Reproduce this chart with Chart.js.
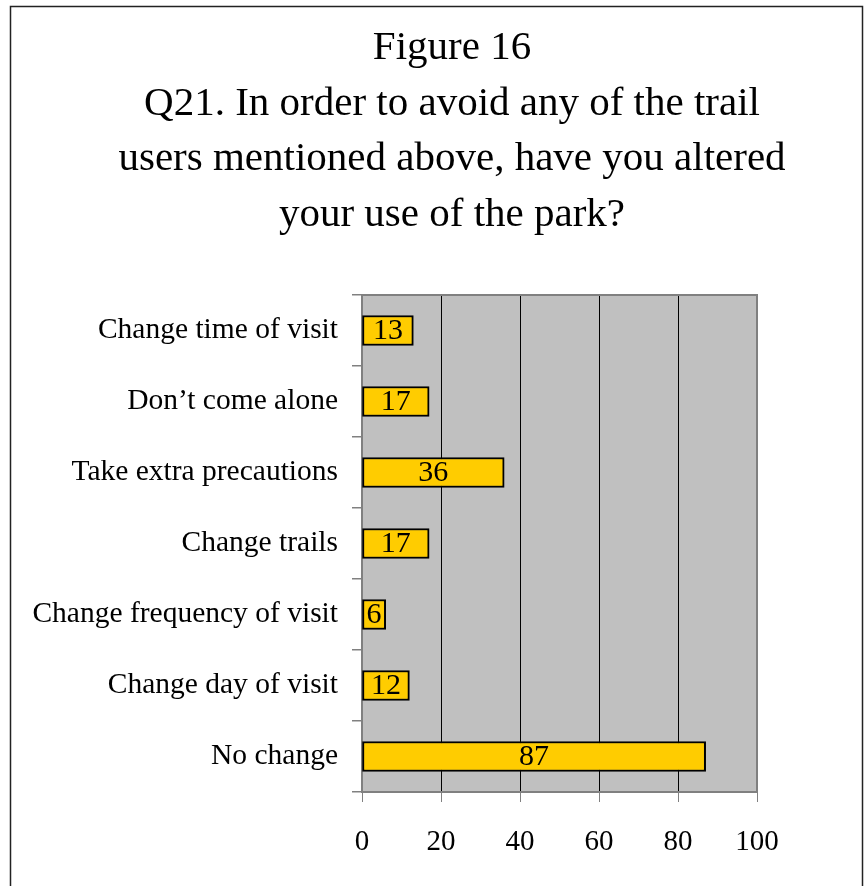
<!DOCTYPE html>
<html>
<head>
<meta charset="utf-8">
<script src="https://cdn.jsdelivr.net/npm/chart.js@4/dist/chart.umd.min.js"></script>
<style>
  html, body { margin: 0; padding: 0; background: #fff; }
  canvas { display: block; }
</style>
</head>
<body>
<canvas id="chart" width="865" height="886"></canvas>
<script>
// Survey answers (percent of respondents)
const categories = [
    'Change time of visit',
    'Don\u2019t come alone',
    'Take extra precautions',
    'Change trails',
    'Change frequency of visit',
    'Change day of visit',
    'No change'
];
const percents = [13, 17, 36, 17, 6, 12, 87];
const titleLines = [
    'Figure 16',
    'Q21. In order to avoid any of the trail',
    'users mentioned above, have you altered',
    'your use of the park?'
];

const serif = '"Liberation Serif", "Times New Roman", serif';

// Title, outer frame, gray plot background and value labels
const decorations = {
    id: 'decorations',
    beforeDraw(chart) {
        const { ctx, chartArea: a } = chart;
        ctx.save();
        ctx.fillStyle = '#C0C0C0';
        ctx.fillRect(a.left, a.top, a.right - a.left, a.bottom - a.top);
        ctx.restore();
    },
    afterDraw(chart) {
        const { ctx, chartArea: a } = chart;
        ctx.save();
        // outer frame
        ctx.strokeStyle = '#222';
        ctx.lineWidth = 1.5;
        ctx.strokeRect(10.5, 6.5, 852, 900);
        // top and right edge of plot
        ctx.strokeStyle = '#808080';
        ctx.lineWidth = 2;
        ctx.beginPath();
        ctx.moveTo(a.left, a.top);
        ctx.lineTo(a.right, a.top);
        ctx.lineTo(a.right, a.bottom);
        ctx.stroke();
        // title
        ctx.fillStyle = '#000';
        ctx.font = '41px ' + serif;
        ctx.textAlign = 'center';
        ctx.textBaseline = 'alphabetic';
        titleLines.forEach((line, i) => {
            ctx.fillText(line, 452, 59 + i * 55.5);
        });
        ctx.restore();
    },
    afterDatasetsDraw(chart) {
        const { ctx } = chart;
        const meta = chart.getDatasetMeta(0);
        ctx.save();
        ctx.fillStyle = '#000';
        ctx.font = '30px ' + serif;
        ctx.textAlign = 'center';
        ctx.textBaseline = 'middle';
        meta.data.forEach((bar, i) => {
            ctx.fillText(String(percents[i]), (bar.base + bar.x) / 2, bar.y + 1);
        });
        ctx.restore();
    }
};

new Chart(document.getElementById('chart'), {
    type: 'bar',
    data: {
        labels: categories,
        datasets: [{
            data: percents,
            backgroundColor: '#FFCC00',
            borderColor: '#000',
            borderWidth: 2,
            borderSkipped: false,
            barThickness: 30
        }]
    },
    options: {
        indexAxis: 'y',
        responsive: false,
        animation: false,
        events: [],
        layout: { padding: { top: 295, right: 108, bottom: 30, left: 0 } },
        plugins: {
            legend: { display: false },
            title: { display: false },
            tooltip: { enabled: false }
        },
        scales: {
            x: {
                min: 0,
                max: 100,
                ticks: {
                    stepSize: 20,
                    color: '#000',
                    padding: 23,
                    font: { family: serif, size: 29 }
                },
                grid: {
                    color: ctx => (ctx.tick && (ctx.tick.value === 0 || ctx.tick.value === 100)) ? 'rgba(0,0,0,0)' : '#000',
                    tickColor: '#808080',
                    tickLength: 10,
                    lineWidth: 1
                },
                border: { color: '#808080', width: 2 },
                afterFit(scale) { scale.height = 64; }
            },
            y: {
                ticks: {
                    color: '#000',
                    padding: 14,
                    font: { family: serif, size: 29.5 }
                },
                grid: {
                    drawOnChartArea: false,
                    color: '#808080',
                    tickLength: 10,
                    lineWidth: 1.5
                },
                border: { color: '#808080', width: 2 },
                afterFit(scale) { scale.width = 362; }
            }
        }
    },
    plugins: [decorations]
});
</script>
</body>
</html>
